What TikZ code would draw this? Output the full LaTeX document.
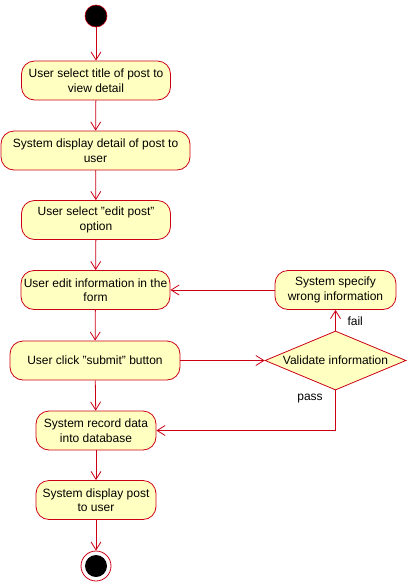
\documentclass[tikz,border=0pt]{standalone}
\usepackage{fontspec}
\setmainfont{Liberation Sans}
\usetikzlibrary{shapes.geometric,arrows.meta}
\definecolor{umlred}{RGB}{204,0,20}
\definecolor{umlfill}{RGB}{255,255,194}
\newcommand{\sq}{\symbol{34}}
\tikzset{
  act/.style={draw=umlred, fill=umlfill, rounded corners=13pt, line width=0.8pt,
    minimum height=39pt, align=center, inner sep=1pt, font=\fontsize{12}{14.5}\selectfont, text=black},
  dec/.style={draw=umlred, fill=umlfill, diamond, aspect=2.4, line width=0.8pt,
    minimum width=141pt, minimum height=59pt, inner sep=0pt, font=\fontsize{12}{14.5}\selectfont},
  flow/.style={draw=umlred, line width=0.8pt, -{Straight Barb[length=8pt,width=10pt,line width=0.8pt]}},
  lbl/.style={font=\fontsize{12}{14.5}\selectfont, text=black}
}
\begin{document}
\begin{tikzpicture}[x=1pt,y=-1pt]
\useasboundingbox (0,0) rectangle (407,584);
\node[circle, fill=black, draw=umlred, line width=0.6pt, minimum size=22pt, inner sep=0pt] (start) at (96,16) {};
\node[act, minimum width=149pt] (a1) at (96,80.5) {User select title of post to\\view detail};
\node[act, minimum width=189pt] (a2) at (95.5,150.5) {System display detail of post to\\user};
\node[act, minimum width=149pt] (a3) at (96,220) {User select \sq edit post\sq\\option};
\node[act, minimum width=149pt] (a4) at (95.5,290) {User edit information in the\\form};
\node[act, minimum width=121pt] (sp) at (335.5,290) {System specify\\wrong information};
\node[act, minimum width=170pt] (a5) at (95,360.5) {User click \sq submit\sq{} button};
\node[dec] (val) at (335.5,360.5) {Validate information};
\node[act, minimum width=120pt] (a6) at (96,430.5) {System record data\\into database};
\node[act, minimum width=120pt] (a7) at (96,500) {System display post\\to user};
\node[circle, draw=umlred, fill=white, line width=0.8pt, minimum size=30pt, inner sep=0pt] (endo) at (96,566) {};
\node[circle, fill=black, minimum size=22pt, inner sep=0pt] (endi) at (96,566) {};
\draw[flow] (start) -- (a1);
\draw[flow] (a1) -- (a2);
\draw[flow] (a2) -- (a3);
\draw[flow] (a3) -- (a4);
\draw[flow] (a4) -- (a5);
\draw[flow] (a5) -- (a6);
\draw[flow] (a6) -- (a7);
\draw[flow] (a7) -- (endo);
\draw[flow] (a5) -- (val);
\draw[flow] (val) -- (sp);
\draw[flow] (sp) -- (a4);
\draw[flow] (val.south) |- (a6.east);
\node[lbl, anchor=west] (fl) at (344,321) {fail};
\node[lbl] (ps) at (310,399) {pass};
\end{tikzpicture}
\end{document}
